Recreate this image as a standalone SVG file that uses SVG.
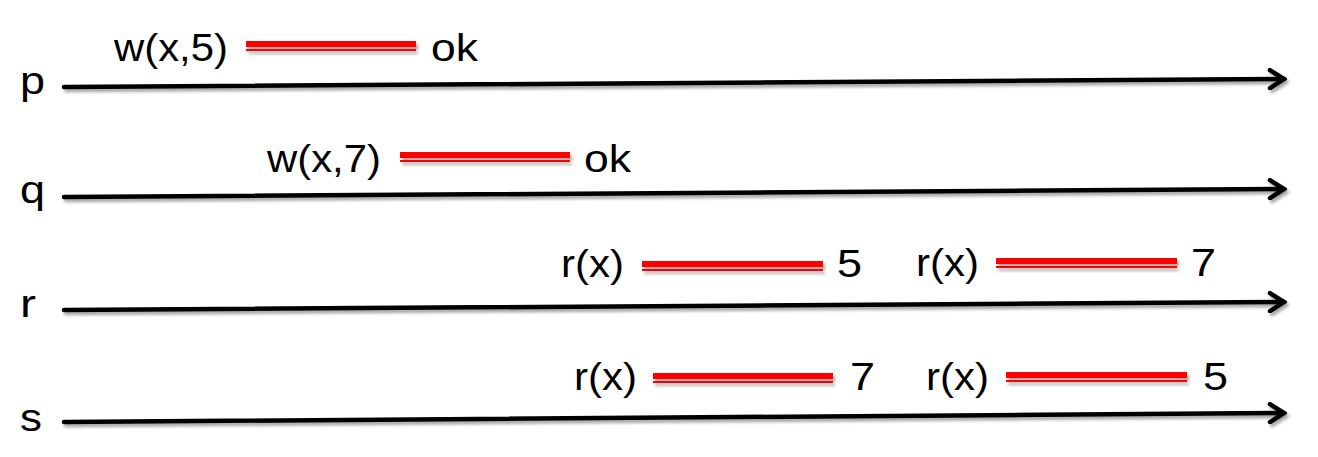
<svg xmlns="http://www.w3.org/2000/svg" width="1318" height="457" viewBox="0 0 1318 457">
<style>
  text { font-family: "Liberation Sans", Arial, sans-serif; font-size: 38px; fill: #000; }
  .tl { stroke: #000; stroke-width: 4.5; fill: none; stroke-linecap: round; }
  .bar { fill: #ff0000; }
  .bars { filter: url(#sh); }
</style>
<defs>
  <filter id="sh" x="-5%" y="-50%" width="110%" height="300%">
    <feDropShadow dx="2" dy="3" stdDeviation="1.6" flood-color="#000" flood-opacity="0.35"/>
  </filter>
  <marker id="arr" markerUnits="userSpaceOnUse" viewBox="0 0 20 22" refX="17" refY="11" markerWidth="20" markerHeight="22" orient="auto">
    <path d="M3,2 L17,11 L3,20" fill="none" stroke="#000" stroke-width="4.5" stroke-linecap="round" stroke-linejoin="miter"/>
  </marker>
</defs>
<rect width="1318" height="457" fill="#fff"/>

<g id="connectors" filter="url(#sh)">
  <line id="line-p" class="tl" x1="64" y1="87" x2="1284" y2="79" marker-end="url(#arr)"/>
  <line id="line-q" class="tl" x1="64" y1="197" x2="1284" y2="189" marker-end="url(#arr)"/>
  <line id="line-r" class="tl" x1="64" y1="310" x2="1284" y2="302" marker-end="url(#arr)"/>
  <line id="line-s" class="tl" x1="64" y1="422" x2="1284" y2="413" marker-end="url(#arr)"/>
</g>

<g id="label-p"><text x="20" y="94" textLength="25" lengthAdjust="spacingAndGlyphs">p</text></g>
<g id="label-q"><text x="20" y="203" textLength="25" lengthAdjust="spacingAndGlyphs">q</text></g>
<g id="label-r"><text x="20" y="317" textLength="16" lengthAdjust="spacingAndGlyphs">r</text></g>
<g id="label-s"><text x="20" y="431" textLength="22" lengthAdjust="spacingAndGlyphs">s</text></g>

<g id="op-p-write">
  <text x="114" y="61" textLength="114" lengthAdjust="spacingAndGlyphs">w(x,5)</text>
  <g class="bars">
    <rect class="bar" x="246" y="41" width="170" height="6"/>
    <rect class="bar" x="246" y="49" width="170" height="2"/>
  </g>
  <text x="431" y="61" textLength="47" lengthAdjust="spacingAndGlyphs">ok</text>
</g>

<g id="op-q-write">
  <text x="267" y="172" textLength="114" lengthAdjust="spacingAndGlyphs">w(x,7)</text>
  <g class="bars">
    <rect class="bar" x="400" y="152" width="170" height="6"/>
    <rect class="bar" x="400" y="160" width="170" height="2"/>
  </g>
  <text x="584" y="172" textLength="47" lengthAdjust="spacingAndGlyphs">ok</text>
</g>

<g id="op-r-read1">
  <text x="561" y="277" textLength="63" lengthAdjust="spacingAndGlyphs">r(x)</text>
  <g class="bars">
    <rect class="bar" x="642" y="261" width="181" height="6"/>
    <rect class="bar" x="642" y="269" width="181" height="2"/>
  </g>
  <text x="837" y="277" textLength="25" lengthAdjust="spacingAndGlyphs">5</text>
</g>

<g id="op-r-read2">
  <text x="916" y="276" textLength="63" lengthAdjust="spacingAndGlyphs">r(x)</text>
  <g class="bars">
    <rect class="bar" x="996" y="258" width="181" height="6"/>
    <rect class="bar" x="996" y="266" width="181" height="2"/>
  </g>
  <text x="1191" y="276" textLength="25" lengthAdjust="spacingAndGlyphs">7</text>
</g>

<g id="op-s-read1">
  <text x="574" y="390" textLength="63" lengthAdjust="spacingAndGlyphs">r(x)</text>
  <g class="bars">
    <rect class="bar" x="653" y="373" width="180" height="6"/>
    <rect class="bar" x="653" y="381" width="180" height="2"/>
  </g>
  <text x="850" y="390" textLength="25" lengthAdjust="spacingAndGlyphs">7</text>
</g>

<g id="op-s-read2">
  <text x="926" y="389.5" textLength="63" lengthAdjust="spacingAndGlyphs">r(x)</text>
  <g class="bars">
    <rect class="bar" x="1006" y="372" width="181" height="6"/>
    <rect class="bar" x="1006" y="380" width="181" height="2"/>
  </g>
  <text x="1203" y="389.5" textLength="25" lengthAdjust="spacingAndGlyphs">5</text>
</g>
</svg>
